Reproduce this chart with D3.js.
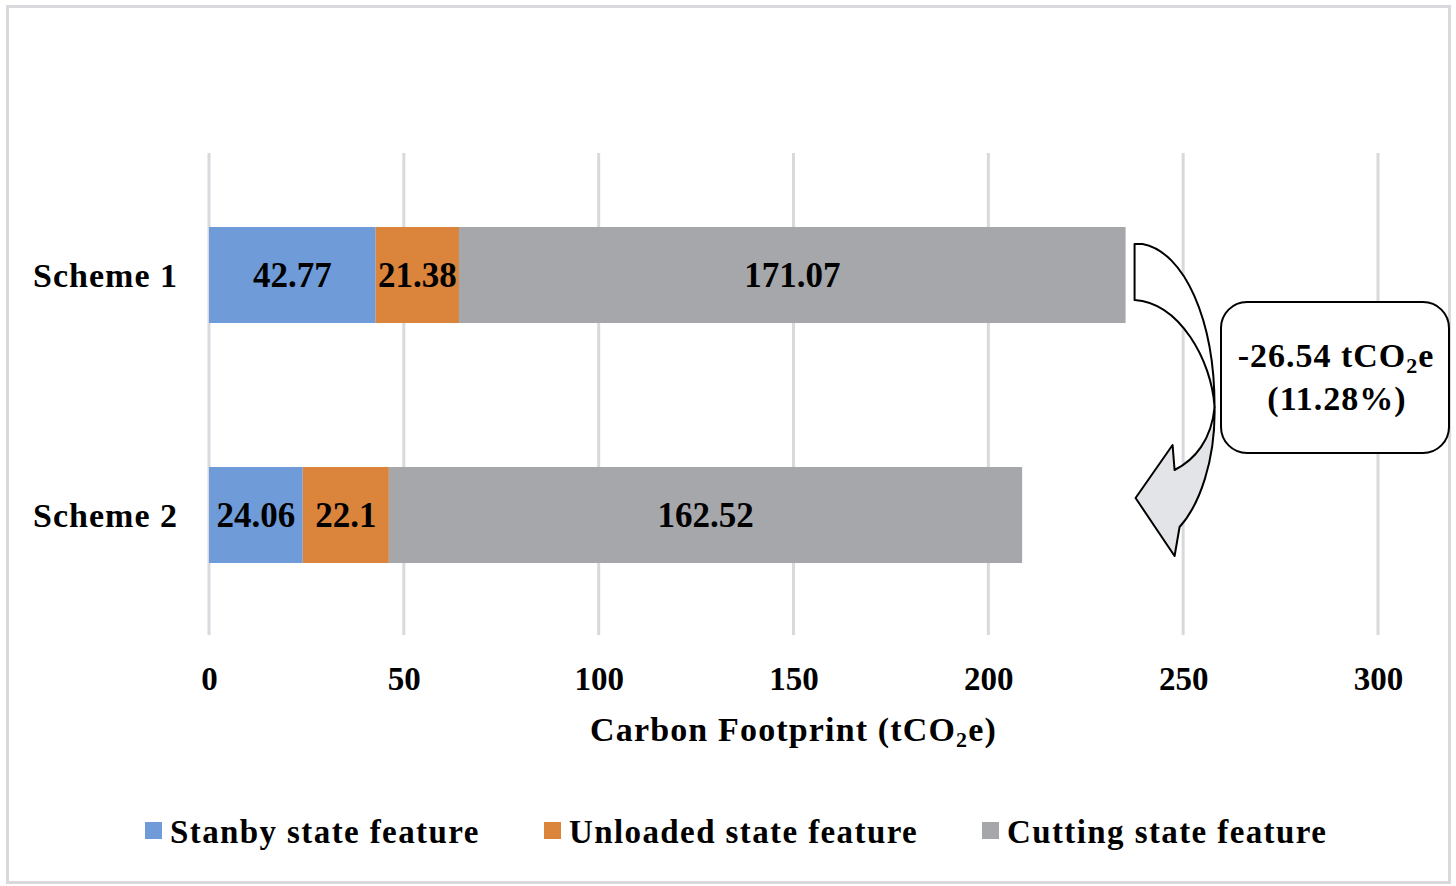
<!DOCTYPE html>
<html>
<head>
<meta charset="utf-8">
<script src="https://cdn.jsdelivr.net/npm/d3@7"></script>
<style>
  html, body { margin: 0; padding: 0; background: #fff; }
  svg { display: block; }
  text { font-family: "Liberation Serif", "Times New Roman", serif; font-weight: bold; fill: #000; }
</style>
</head>
<body>
<div id="chart"></div>
<script>
// ---- data ----
const categories = ["Scheme 1", "Scheme 2"];
const standby = [42.77, 24.06];
const unloaded = [21.38, 22.1];
const cutting = [171.07, 162.52];
const seriesNames = ["Stanby state feature", "Unloaded state feature", "Cutting state feature"];
const seriesColors = ["#6f9cd9", "#db843b", "#a5a7ab"];
const xTicks = [0, 50, 100, 150, 200, 250, 300];
const reductionValue = "-26.54";
const reductionPct = "(11.28%)";

// ---- layout ----
const W = 1456, H = 886;
const svg = d3.select("#chart").append("svg").attr("width", W).attr("height", H);
svg.append("rect").attr("width", W).attr("height", H).attr("fill", "#fff");
svg.append("rect").attr("x", 7.5).attr("y", 6.5).attr("width", 1442).attr("height", 876)
  .attr("fill", "none").attr("stroke", "#d9d9dd").attr("stroke-width", 3);

const x = d3.scaleLinear().domain([0, 300]).range([209, 1378]);
const y = d3.scaleBand().domain(categories).range([155, 635]).paddingInner(0.6).paddingOuter(0.3);

const rows = categories.map((c, i) => ({ cat: c, s0: standby[i], s1: unloaded[i], s2: cutting[i] }));
const stack = d3.stack().keys(["s0", "s1", "s2"]);
const series = stack(rows);

// gridlines
svg.append("g").selectAll("line").data(xTicks).join("line")
  .attr("x1", d => x(d)).attr("x2", d => x(d))
  .attr("y1", 153).attr("y2", 635)
  .attr("stroke", "#d9d9dd").attr("stroke-width", 3);

// bars
series.forEach((s, si) => {
  const g = svg.append("g");
  g.selectAll("rect").data(s).join("rect")
    .attr("x", d => x(d[0])).attr("width", d => x(d[1]) - x(d[0]))
    .attr("y", d => y(d.data.cat)).attr("height", y.bandwidth())
    .attr("fill", seriesColors[si]);
  g.selectAll("text").data(s).join("text")
    .attr("x", d => (x(d[0]) + x(d[1])) / 2)
    .attr("y", d => y(d.data.cat) + y.bandwidth() / 2 + 12)
    .attr("text-anchor", "middle").attr("font-size", 35)
    .text(d => String(+(d[1] - d[0]).toFixed(2)));
});

// category labels
svg.append("g").selectAll("text").data(categories).join("text")
  .attr("x", 178).attr("y", d => y(d) + y.bandwidth() / 2 + 12)
  .attr("text-anchor", "end").attr("font-size", 34).attr("letter-spacing", 1).text(d => d);

// x axis tick labels
const xAxis = d3.axisBottom(x).tickValues(xTicks).tickSize(0).tickPadding(0);
const ax = svg.append("g").attr("transform", "translate(0,667)").call(xAxis);
ax.select(".domain").remove();
ax.selectAll("text").attr("font-size", 33).attr("fill", "#000")
  .attr("font-family", "Liberation Serif, Times New Roman, serif").attr("font-weight", "bold");

// axis title
const title = svg.append("text").attr("x", x(150)).attr("y", 741).attr("text-anchor", "middle")
  .attr("font-size", 34).attr("letter-spacing", 1.15);
title.append("tspan").text("Carbon Footprint (tCO");
title.append("tspan").attr("font-size", 22).attr("dy", 6).text("2");
title.append("tspan").attr("dy", -6).text("e)");

// curved arrow annotation (anchored to scheme 1 bar end)
const totals = rows.map(r => r.s0 + r.s1 + r.s2);
const a0 = x(totals[0]) + 9;
const t0 = y(categories[0]) + 17;
const P = (dx, dy) => `${a0 + dx},${t0 + dy}`;
svg.append("path")
  .attr("d", `M${P(0,0)} L${P(8,0)} C${P(50,8)} ${P(80,76)} ${P(80,163)} C${P(77,116)} ${P(45,59)} ${P(0,56)} Z`)
  .attr("fill", "#fff").attr("stroke", "#000").attr("stroke-width", 2).attr("stroke-linejoin", "round");
svg.append("path")
  .attr("d", `M${P(80,163)} C${P(81,216)} ${P(65,261)} ${P(45,283)} L${P(40,312)} L${P(1,254)} L${P(38,201)} L${P(40,226)} C${P(60,216)} ${P(77,196)} ${P(80,163)} Z`)
  .attr("fill", "#e3e4e8").attr("stroke", "#000").attr("stroke-width", 2).attr("stroke-linejoin", "round");

// callout box
svg.append("rect").attr("x", 1221).attr("y", 302).attr("width", 228).attr("height", 151).attr("rx", 26)
  .attr("fill", "#fff").attr("stroke", "#000").attr("stroke-width", 2);
const c1 = svg.append("text").attr("x", 1336).attr("y", 367).attr("text-anchor", "middle")
  .attr("font-size", 34).attr("letter-spacing", 1);
c1.append("tspan").text(reductionValue + " tCO");
c1.append("tspan").attr("font-size", 22).attr("dy", 6).text("2");
c1.append("tspan").attr("dy", -6).text("e");
svg.append("text").attr("x", 1337).attr("y", 410).attr("text-anchor", "middle").attr("font-size", 34)
  .attr("letter-spacing", 1).text(reductionPct);

// legend
const leg = svg.append("g");
const itemX = [145, 544, 982];
seriesNames.forEach((n, i) => {
  leg.append("rect").attr("x", itemX[i]).attr("y", 822).attr("width", 17).attr("height", 17).attr("fill", seriesColors[i]);
  leg.append("text").attr("x", itemX[i] + 25).attr("y", 843).attr("font-size", 33)
    .attr("letter-spacing", 1.4).text(n);
});
</script>
</body>
</html>
